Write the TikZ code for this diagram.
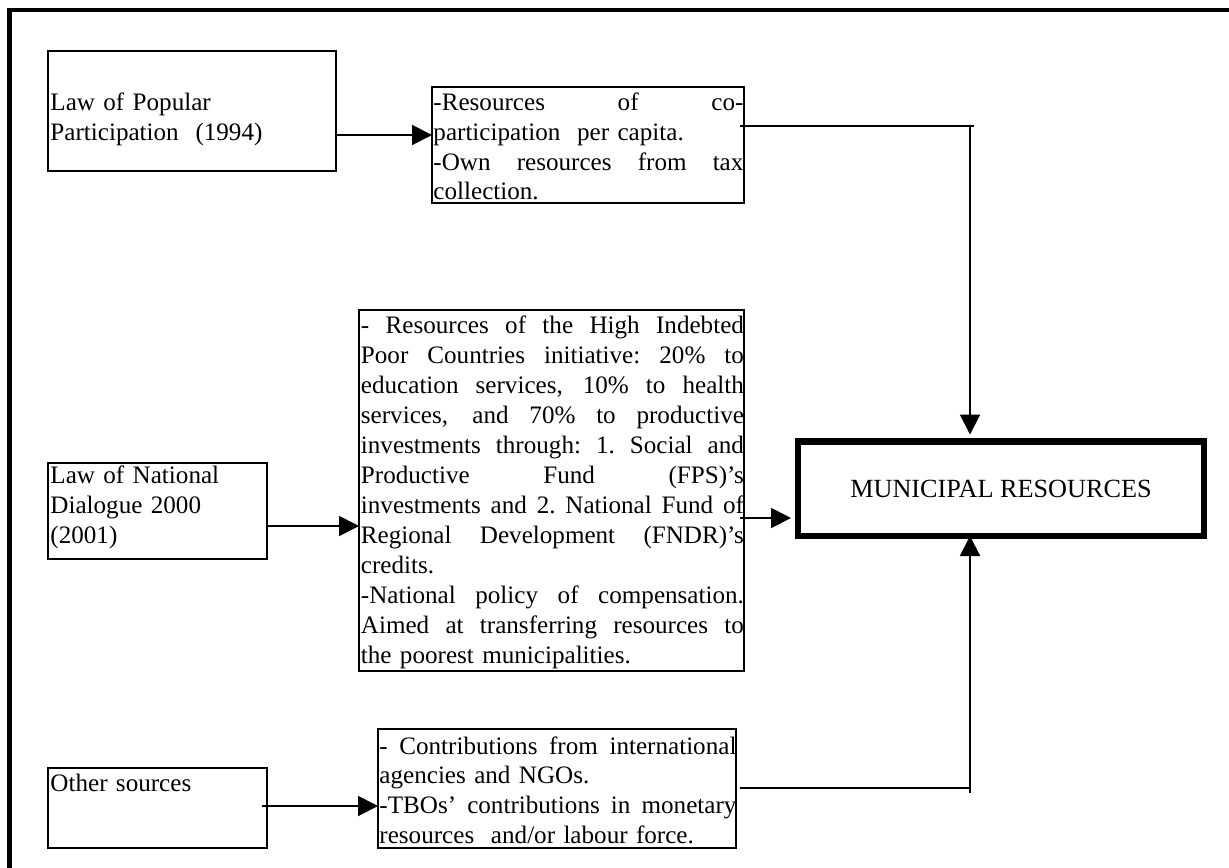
\documentclass[tikz,border=0pt]{standalone}
\usepackage{fontspec}
\setmainfont{Liberation Serif}
\usetikzlibrary{arrows.meta}

% one justified line, stretched to the full text width of its node
\newcommand{\jl}[1]{\makebox[\hsize][s]{\spaceskip=\fontdimen2\font plus 1fil\relax
  \xspaceskip=\spaceskip\strut #1}\\}
% last (unstretched) line of a paragraph
\newcommand{\lastl}[1]{\strut #1}

\tikzset{
  frameline/.style={line width=1.9pt},
  box/.style={draw, line width=0.9pt, inner sep=0pt, outer sep=0pt, anchor=north west},
  thinbox/.style={box, line width=0.8pt},
  mainbox/.style={draw, line width=2.8pt, inner sep=0pt, outer sep=0pt, anchor=north west,
                  font=\fontsize{11.8}{13.5}\selectfont},
  txt/.style={anchor=base west, inner sep=0pt, align=left,
              font=\fontsize{11.3}{13.5}\selectfont},
  conn/.style={line width=0.9pt},
  arr/.style={conn, -{Triangle[length=9pt,width=9pt]}},
}

\begin{document}
\begin{tikzpicture}[x=0.45pt, y=-0.45pt]
\useasboundingbox (0,0) rectangle (1229,867);
\fill[white] (0,0) rectangle (1229,867);

% outer frame (top and left sides)
\draw[frameline] (9.5,900) -- (9.5,10) -- (1260,10);

% source boxes
\node[box, minimum width=288*0.45pt, minimum height=120*0.45pt] (lpp) at (48,51) {};
\node[box, minimum width=219*0.45pt, minimum height=96*0.45pt] (lnd) at (48,463) {};
\node[box, minimum width=219*0.45pt, minimum height=80*0.45pt] (oth) at (48,768) {};

% resource boxes
\node[thinbox, minimum width=312*0.45pt, minimum height=116*0.45pt] (rb) at (432,87) {};
\node[thinbox, minimum width=385*0.45pt, minimum height=361*0.45pt] (rc) at (359,310) {};
\node[thinbox, minimum width=358*0.45pt, minimum height=119*0.45pt] (rf) at (378,729) {};

% target box
\node[mainbox, minimum width=406*0.45pt, minimum height=94.5*0.45pt] (mun) at (798,441.5)
  {MUNICIPAL RESOURCES};

% texts of the source boxes
\node[txt, text width=280*0.45pt] (lppt) at (50,110.5)
  {\lastl{Law of Popular}\\\lastl{Participation\ \ (1994)}};
\node[txt, text width=210*0.45pt] (lndt) at (50,483)
  {\lastl{Law of National}\\\lastl{Dialogue 2000}\\\lastl{(2001)}};
\node[txt, text width=210*0.45pt] (otht) at (50,791) {\lastl{Other sources}};

% texts of the resource boxes
\node[txt, text width=310*0.45pt, font=\fontsize{11.3}{13.4}\selectfont] (rbt) at (433,110.5)
  {\jl{-Resources of co-}%
   \lastl{participation\ \ per capita.}\\%
   \jl{-Own resources from tax}%
   \lastl{collection.}};
\node[txt, text width=383*0.45pt] (rct) at (360.5,333)
  {\jl{- Resources of the High Indebted}%
   \jl{Poor Countries initiative: 20\% to}%
   \jl{education services, 10\% to health}%
   \jl{services, and 70\% to productive}%
   \jl{investments through: 1. Social and}%
   \jl{Productive Fund (FPS)’s}%
   \jl{investments and 2. National Fund of}%
   \jl{Regional Development (FNDR)’s}%
   \lastl{credits.}\\%
   \jl{-National policy of compensation.}%
   \jl{Aimed at transferring resources to}%
   \lastl{the poorest municipalities.}};
\node[txt, text width=357*0.45pt, font=\fontsize{11.3}{13.4}\selectfont] (rft) at (379,754)
  {\jl{- Contributions from international}%
   \lastl{agencies and NGOs.}\\%
   \jl{-TBOs’ contributions in monetary}%
   \lastl{resources\ \ and/or labour force.}};

% connectors from the laws to their resources
\draw[arr] (lpp.east |- 0,135) -- (rb.west |- 0,135);
\draw[arr] (lnd.east |- 0,526) -- (rc.west |- 0,526);
\draw[arr] ([xshift=-5*0.45pt]oth.east |- 0,806) -- (rf.west |- 0,806);

% connectors into the municipal resources
\coordinate (jtop) at (970,126);
\coordinate (jbot) at (970,788);
\draw[conn] ([xshift=-4*0.45pt]rb.east |- jtop) -- ([xshift=4*0.45pt]jtop);
\draw[arr, shorten >=7*0.45pt] (jtop) -- (jtop |- mun.north);
\draw[arr, shorten >=7*0.45pt] ([xshift=-4*0.45pt]rc.east |- 0,518) -- (mun.west |- 0,518);
\draw[conn] ([xshift=4*0.45pt]rf.east |- jbot) -- (jbot);
\draw[arr] ([yshift=-5*0.45pt]jbot) -- (jbot |- mun.south);
\end{tikzpicture}
\end{document}
